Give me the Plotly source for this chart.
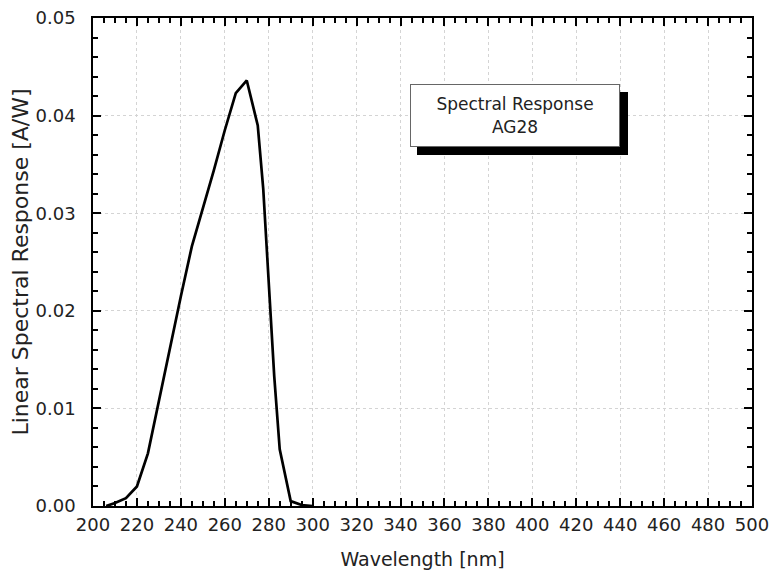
import plotly.graph_objects as go

wavelength_nm = [206, 210, 215, 220, 225, 230, 235, 240, 245, 250, 255, 260, 265, 270,
                 275, 277.5, 280, 282.5, 285, 290, 295, 300]
response_aw = [0.0000, 0.0003, 0.0008, 0.0020, 0.0054, 0.0108, 0.0162, 0.0215, 0.0266,
               0.0304, 0.0344, 0.0385, 0.0423, 0.0436, 0.0390, 0.0325, 0.0232, 0.0133,
               0.0058, 0.0005, 0.0001, 0.0000]
x_ticks = list(range(200, 501, 20))
y_ticks = [0.00, 0.01, 0.02, 0.03, 0.04, 0.05]
y_tick_labels = ["0.00", "0.01", "0.02", "0.03", "0.04", "0.05"]
legend_lines = ["Spectral Response", "AG28"]

fig = go.Figure()
fig.add_trace(go.Scatter(x=wavelength_nm, y=response_aw, mode="lines",
                         line=dict(color="black", width=2.7), showlegend=False))

FAM = "DejaVu Sans, sans-serif"
font = dict(family=FAM, size=18, color="#222")
axis_common = dict(showline=True, linecolor="black", linewidth=1.5, mirror="allticks",
                   ticks="inside", ticklen=8, tickwidth=1.5, tickcolor="black",
                   showgrid=True, gridcolor="#d4d4d4", griddash="dot", gridwidth=1,
                   zeroline=False, tickfont=font, automargin=False,
                   ticklabeloverflow="allow")

fig.update_xaxes(range=[200, 500], tickvals=x_ticks, ticklabelstandoff=2,
                 minor=dict(dtick=5, ticks="inside", ticklen=5, tickcolor="black", showgrid=False),
                 title=dict(text="Wavelength [nm]", font=dict(family=FAM, size=19, color="#222"), standoff=18),
                 **axis_common)
fig.update_yaxes(range=[0, 0.05], tickvals=y_ticks, ticktext=y_tick_labels, ticklabelstandoff=12,
                 minor=dict(dtick=0.002, ticks="inside", ticklen=5, tickcolor="black", showgrid=False),
                 title=dict(text="Linear Spectral Response [A/W]", font=dict(family=FAM, size=22, color="#222"), standoff=1),
                 **axis_common)

W, H = 770, 575
L, R, T, B = 93, 18, 18, 69
pw, ph = W - L - R, H - T - B
def px(x): return (x - L) / pw
def py(y): return 1 - (y - T) / ph

fig.add_shape(type="rect", xref="paper", yref="paper",
              x0=px(417), x1=px(628), y0=py(155), y1=py(92),
              fillcolor="black", line=dict(width=0), layer="above")
fig.add_annotation(xref="paper", yref="paper", x=px(515), y=py(115.5),
                   xanchor="center", yanchor="middle",
                   text="<br>".join(legend_lines), showarrow=False,
                   width=208, height=61, borderpad=0,
                   bgcolor="white", bordercolor="#666", borderwidth=1,
                   font=dict(family=FAM, size=17, color="#222"), align="center", valign="middle")

fig.update_layout(width=W, height=H, margin=dict(l=L, r=R, t=T, b=B),
                  paper_bgcolor="white", plot_bgcolor="white")
fig.write_html("out.html", config={"displayModeBar": False},
               post_script="document.body.style.margin='0px';document.body.style.overflow='hidden';")
